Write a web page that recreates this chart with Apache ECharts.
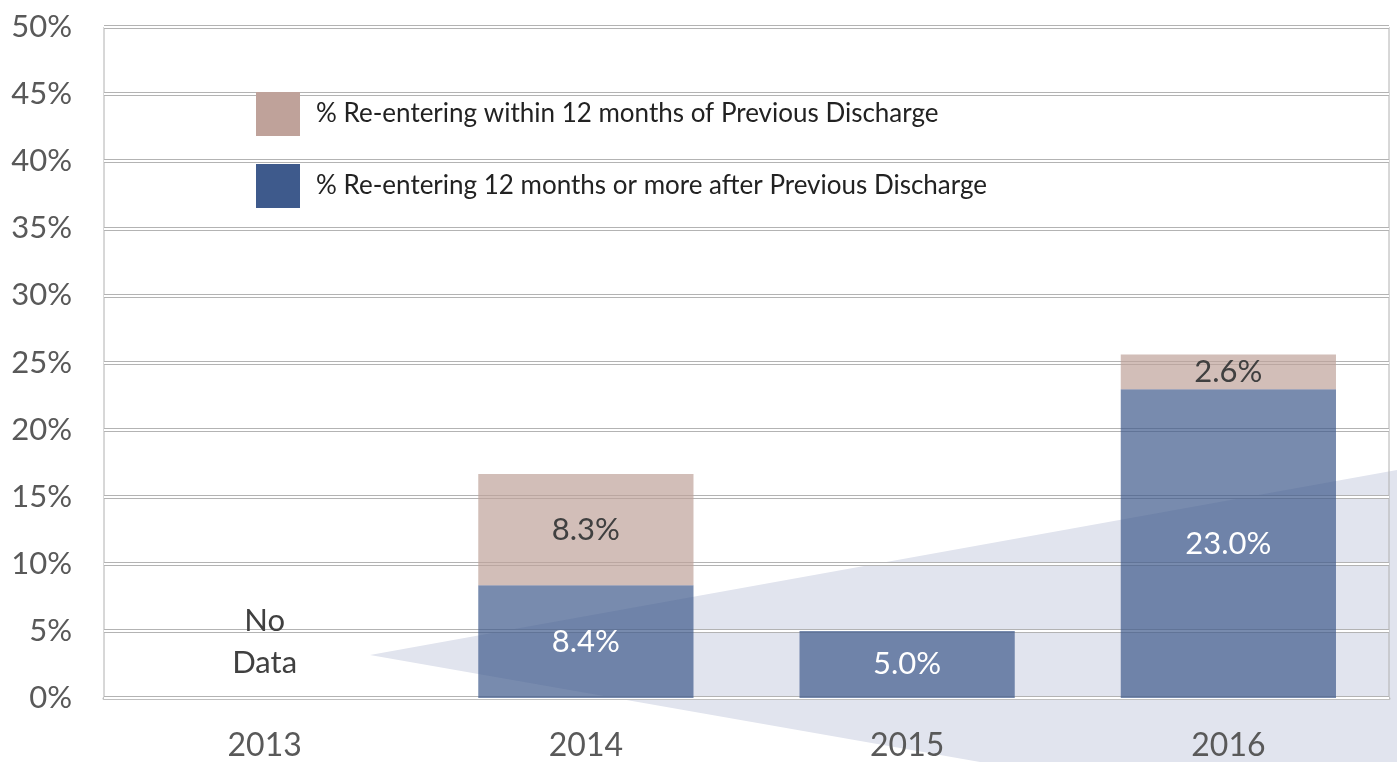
<!DOCTYPE html>
<html>
<head>
<meta charset="utf-8">
<title>Re-entry chart</title>
<script src="https://cdn.jsdelivr.net/npm/echarts@6/dist/echarts.min.js"></script>
<style>
  html, body { margin: 0; padding: 0; background: #fff; }
  #chart { width: 1397px; height: 762px; }
</style>
</head>
<body>
<div id="chart"></div>
<script>
// chart data
var years = ["2013", "2014", "2015", "2016"];
var laterValues = [0, 8.4, 5.0, 23.0];      // 12 months or more after
var withinValues = ["-", 8.3, "-", 2.6];    // within 12 months
var yTicks = { min: 0, max: 50, interval: 5 };

var FONT = "Lato, 'Open Sans', sans-serif";

var chart = echarts.init(document.getElementById("chart"));

chart.setOption({
  animation: false,
  textStyle: { fontFamily: FONT },
  graphic: [
    {
      type: "polygon",
      z: -10,
      silent: true,
      shape: { points: [[370, 655], [1397, 470], [1397, 762], [980, 762]] },
      style: { fill: "#e1e4ee" }
    }
  ],
  legend: {
    orient: "vertical",
    left: 256,
    top: 92,
    padding: 0,
    itemWidth: 44,
    itemHeight: 44,
    itemGap: 28,
    textStyle: { fontSize: 26, color: "#222", fontFamily: FONT, padding: [0, 0, 0, 11] },
    data: [
      { name: "% Re-entering within 12 months of Previous Discharge", icon: "rect", itemStyle: { color: "#bfa29a", opacity: 1 } },
      { name: "% Re-entering 12 months or more after Previous Discharge", icon: "rect", itemStyle: { color: "#3e5a8c", opacity: 1 } }
    ]
  },
  grid: {
    left: 104,
    right: 8,
    top: 27,
    bottom: 64,
    show: true,
    borderColor: "#b0b0b0",
    borderWidth: 1,
    backgroundColor: "transparent"
  },
  xAxis: {
    type: "category",
    data: years,
    axisTick: { show: false },
    axisLine: { lineStyle: { color: "#bfbfbf", width: 3 } },
    axisLabel: { color: "#595959", fontSize: 32, margin: 32, fontFamily: FONT }
  },
  yAxis: [
    {
      type: "value",
      min: yTicks.min,
      max: yTicks.max,
      interval: yTicks.interval,
      axisLabel: { color: "#595959", fontSize: 31, margin: 32, formatter: "{value}%", fontFamily: FONT },
      axisLine: { show: false },
      axisTick: { show: false },
      splitLine: { lineStyle: { color: "#b3b3b3", width: 4 } }
    },
    {
      type: "value",
      z: 1,
      min: yTicks.min,
      max: yTicks.max,
      interval: yTicks.interval,
      axisLabel: { show: false },
      axisLine: { show: false },
      axisTick: { show: false },
      splitLine: { lineStyle: { color: "#ffffff", width: 2 } }
    }
  ],
  series: [
    {
      name: "% Re-entering 12 months or more after Previous Discharge",
      type: "bar",
      stack: "total",
      barCategoryGap: "33%",
      data: laterValues.map(function (v, i) {
        if (i === 0) {
          return {
            value: v,
            label: {
              show: true,
              position: "top",
              distance: 14,
              formatter: "No\nData",
              color: "#404040",
              fontSize: 31,
              lineHeight: 42
            }
          };
        }
        return v;
      }),
      itemStyle: { color: "rgba(62,90,140,0.7)" },
      label: {
        show: true,
        position: "inside",
        color: "#ffffff",
        fontSize: 31,
        fontFamily: FONT,
        formatter: function (p) { return p.value.toFixed(1) + "%"; }
      }
    },
    {
      name: "% Re-entering within 12 months of Previous Discharge",
      type: "bar",
      stack: "total",
      data: withinValues,
      itemStyle: { color: "rgba(191,162,154,0.7)" },
      label: {
        show: true,
        position: "inside",
        color: "#404040",
        fontSize: 31,
        fontFamily: FONT,
        formatter: function (p) { return p.value.toFixed(1) + "%"; }
      }
    }
  ]
});
</script>
</body>
</html>
